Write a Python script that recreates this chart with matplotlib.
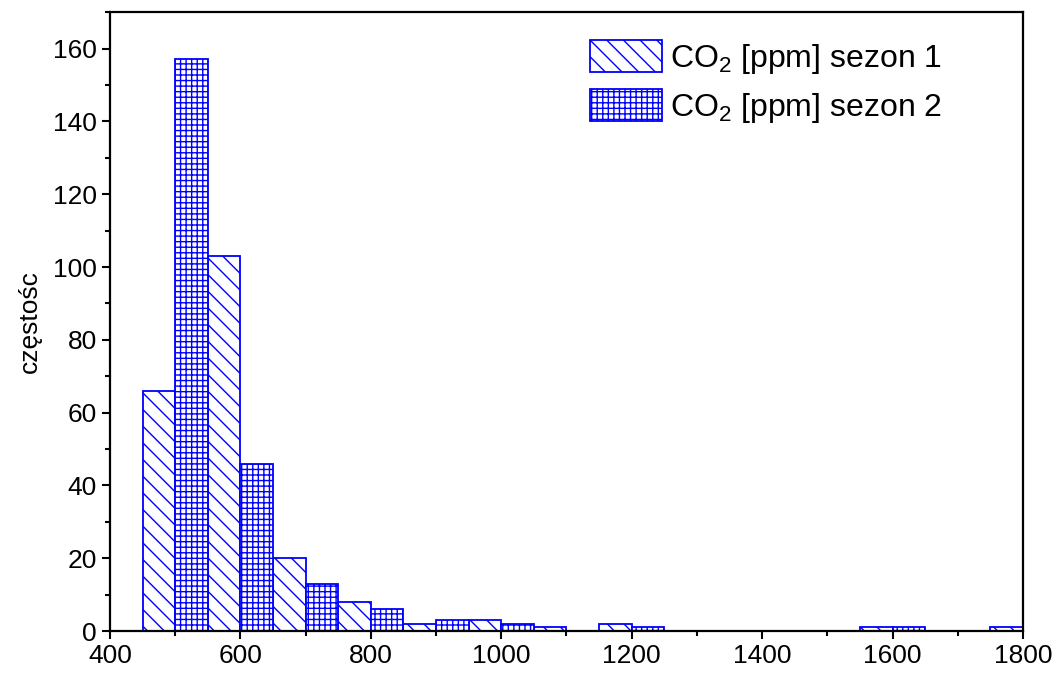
import matplotlib
matplotlib.use("Agg")
from matplotlib import pyplot as plt
from matplotlib.ticker import MultipleLocator

plt.rcParams['font.family'] = ['Liberation Sans', 'DejaVu Sans']
plt.rcParams['mathtext.default'] = 'regular'
plt.rcParams['hatch.linewidth'] = 1.0

# histogram data (bins of 100 ppm, each season gets half a bin)
bin_start = [450, 550, 650, 750, 850, 950, 1050, 1150, 1250, 1350, 1450, 1550, 1650, 1750]
sezon1 = [66, 103, 20, 8, 2, 3, 1, 2, 0, 0, 0, 1, 0, 1]
sezon2 = [157, 46, 13, 6, 3, 2, 0, 1, 0, 0, 0, 1, 0, 0]
labels = ["CO$_2$ [ppm] sezon 1", "CO$_2$ [ppm] sezon 2"]

x1 = [b for b, v in zip(bin_start, sezon1) if v > 0]
h1 = [v for v in sezon1 if v > 0]
x2 = [b + 50 for b, v in zip(bin_start, sezon2) if v > 0]
h2 = [v for v in sezon2 if v > 0]

fig = plt.figure(figsize=(10.62, 6.75), dpi=100)
ax = fig.add_axes([0.1036, 0.065, 0.8596, 0.917])

ax.bar(x1, h1, width=50, align='edge', facecolor='white', edgecolor='blue',
       hatch='\\\\', lw=1.3, label=labels[0])
ax.bar(x2, h2, width=50, align='edge', facecolor='white', edgecolor='blue',
       hatch='+++', lw=1.3, label=labels[1])

ax.set_xlim(400, 1800)
ax.set_ylim(0, 170)
ax.xaxis.set_major_locator(MultipleLocator(200))
ax.xaxis.set_minor_locator(MultipleLocator(100))
ax.yaxis.set_major_locator(MultipleLocator(20))
ax.yaxis.set_minor_locator(MultipleLocator(10))
ax.tick_params(which='major', length=6, width=1.5, labelsize=19, direction='out')
ax.tick_params(which='minor', length=3.5, width=1.5, direction='out')
for s in ax.spines.values():
    s.set_linewidth(1.6)

ax.set_ylabel("częstośc", fontsize=19, labelpad=8)

ax.legend(loc='upper left', bbox_to_anchor=(0.526, 0.955), frameon=False,
          fontsize=23, handlelength=2.25, handleheight=1.15, handletextpad=0.25,
          labelspacing=0.42, borderpad=0, borderaxespad=0)

fig.savefig("out.png", dpi=100)
